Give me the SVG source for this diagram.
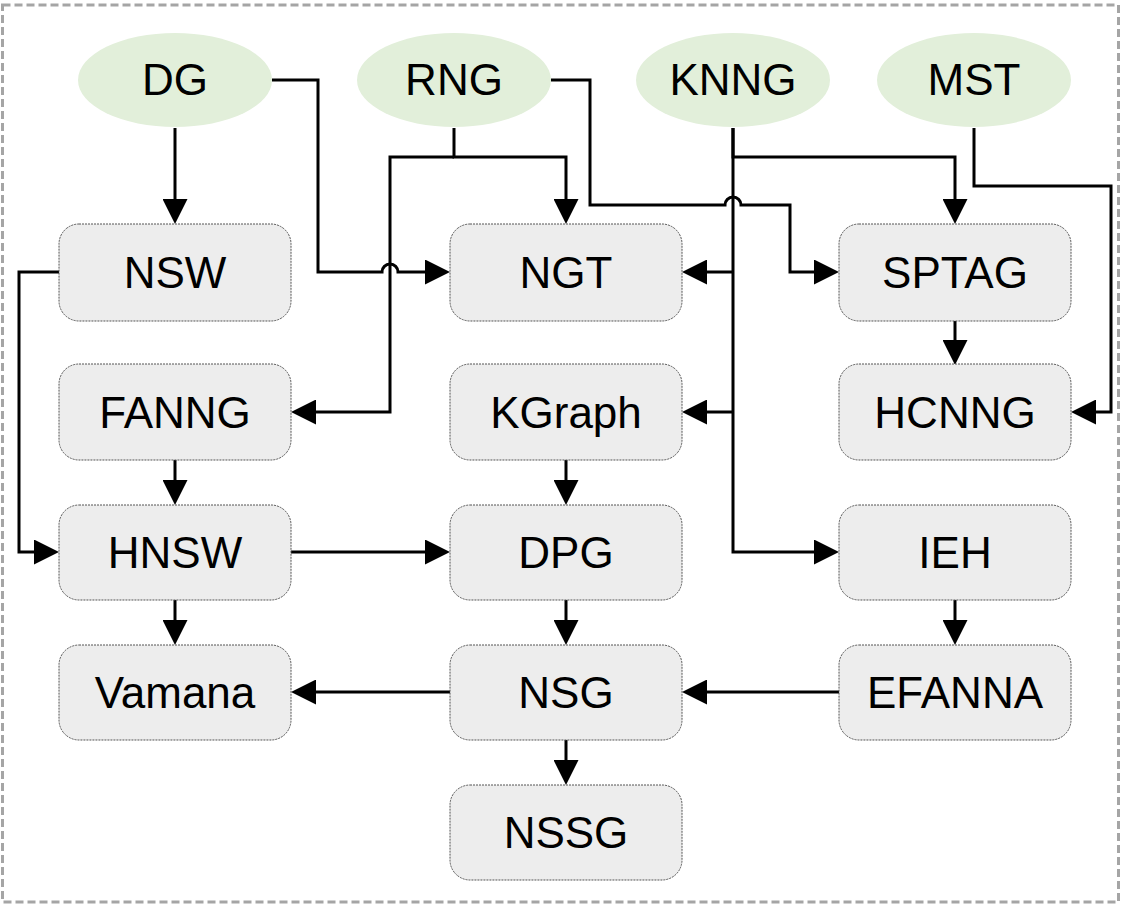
<svg xmlns="http://www.w3.org/2000/svg" width="1124" height="906" viewBox="0 0 1124 906">
<style>
.src ellipse{fill:#e2efda;stroke:none}
.node rect{fill:#ededed;stroke:#555;stroke-width:1;stroke-dasharray:2 1}
text{font-family:"Liberation Sans",Arial,sans-serif;font-size:44px;fill:#000;text-anchor:middle}
#connectors path{fill:none;stroke:#000;stroke-width:3;stroke-linejoin:miter}
#connectors path.a{marker-end:url(#arr)}
</style>
<defs>
<marker id="arr" markerUnits="userSpaceOnUse" markerWidth="25" markerHeight="25" refX="21" refY="12.5" orient="auto">
<path d="M0,0 L25,12.5 L0,25 z" fill="#000"/>
</marker>
</defs>
<rect x="0" y="0" width="1124" height="906" fill="#fff"/>
<rect x="2.5" y="5" width="1116" height="897" fill="none" stroke="#a5a5a5" stroke-width="3" stroke-dasharray="8 4"/>
<g id="connectors">
<path class="a" d="M175,128 V220"/>
<path class="a" d="M272,80 H318 V272 H382 a8,8 0 0 1 16,0 H446"/>
<path class="a" d="M454,128 V157 H566 V220"/>
<path class="a" d="M454,157 H390 V412 H295"/>
<path class="a" d="M551,80 H590 V205 H725 a8,8 0 0 1 16,0 H790 V272 H835"/>
<path class="a" d="M733,128 V157 H955 V220"/>
<path class="a" d="M733,272 H686"/>
<path class="a" d="M733,412 H686"/>
<path class="a" d="M733,128 V552 H835"/>
<path class="a" d="M974,128 V186 H1111 V412 H1075"/>
<path class="a" d="M59,272 H19 V552 H55"/>
<path class="a" d="M175,460 V501"/>
<path class="a" d="M291,552 H446"/>
<path class="a" d="M175,600 V641"/>
<path class="a" d="M566,460 V501"/>
<path class="a" d="M566,600 V641"/>
<path class="a" d="M955,321 V361"/>
<path class="a" d="M955,600 V641"/>
<path class="a" d="M839,692 H686"/>
<path class="a" d="M450,692 H295"/>
<path class="a" d="M566,740 V781"/>
</g>
<g id="DG" class="src"><ellipse cx="175" cy="80" rx="97" ry="47"/><text x="175" y="95">DG</text></g>
<g id="RNG" class="src"><ellipse cx="454" cy="80" rx="97" ry="47"/><text x="454" y="95">RNG</text></g>
<g id="KNNG" class="src"><ellipse cx="733" cy="80" rx="97" ry="47"/><text x="733" y="95">KNNG</text></g>
<g id="MST" class="src"><ellipse cx="974" cy="80" rx="97" ry="47"/><text x="974" y="95">MST</text></g>
<g id="NSW" class="node"><rect x="59" y="224" width="232" height="97" rx="20"/><text x="175" y="288">NSW</text></g>
<g id="NGT" class="node"><rect x="450" y="224" width="232" height="97" rx="20"/><text x="566" y="288">NGT</text></g>
<g id="SPTAG" class="node"><rect x="839" y="224" width="232" height="97" rx="20"/><text x="955" y="288">SPTAG</text></g>
<g id="FANNG" class="node"><rect x="59" y="364" width="232" height="96" rx="20"/><text x="175" y="428">FANNG</text></g>
<g id="KGraph" class="node"><rect x="450" y="364" width="232" height="96" rx="20"/><text x="566" y="428">KGraph</text></g>
<g id="HCNNG" class="node"><rect x="839" y="364" width="232" height="96" rx="20"/><text x="955" y="428">HCNNG</text></g>
<g id="HNSW" class="node"><rect x="59" y="505" width="232" height="95" rx="20"/><text x="175" y="568">HNSW</text></g>
<g id="DPG" class="node"><rect x="450" y="505" width="232" height="95" rx="20"/><text x="566" y="568">DPG</text></g>
<g id="IEH" class="node"><rect x="839" y="505" width="232" height="95" rx="20"/><text x="955" y="568">IEH</text></g>
<g id="Vamana" class="node"><rect x="59" y="645" width="232" height="95" rx="20"/><text x="175" y="708">Vamana</text></g>
<g id="NSG" class="node"><rect x="450" y="645" width="232" height="95" rx="20"/><text x="566" y="708">NSG</text></g>
<g id="EFANNA" class="node"><rect x="839" y="645" width="232" height="95" rx="20"/><text x="955" y="708">EFANNA</text></g>
<g id="NSSG" class="node"><rect x="450" y="785" width="232" height="95" rx="20"/><text x="566" y="848">NSSG</text></g>
</svg>
